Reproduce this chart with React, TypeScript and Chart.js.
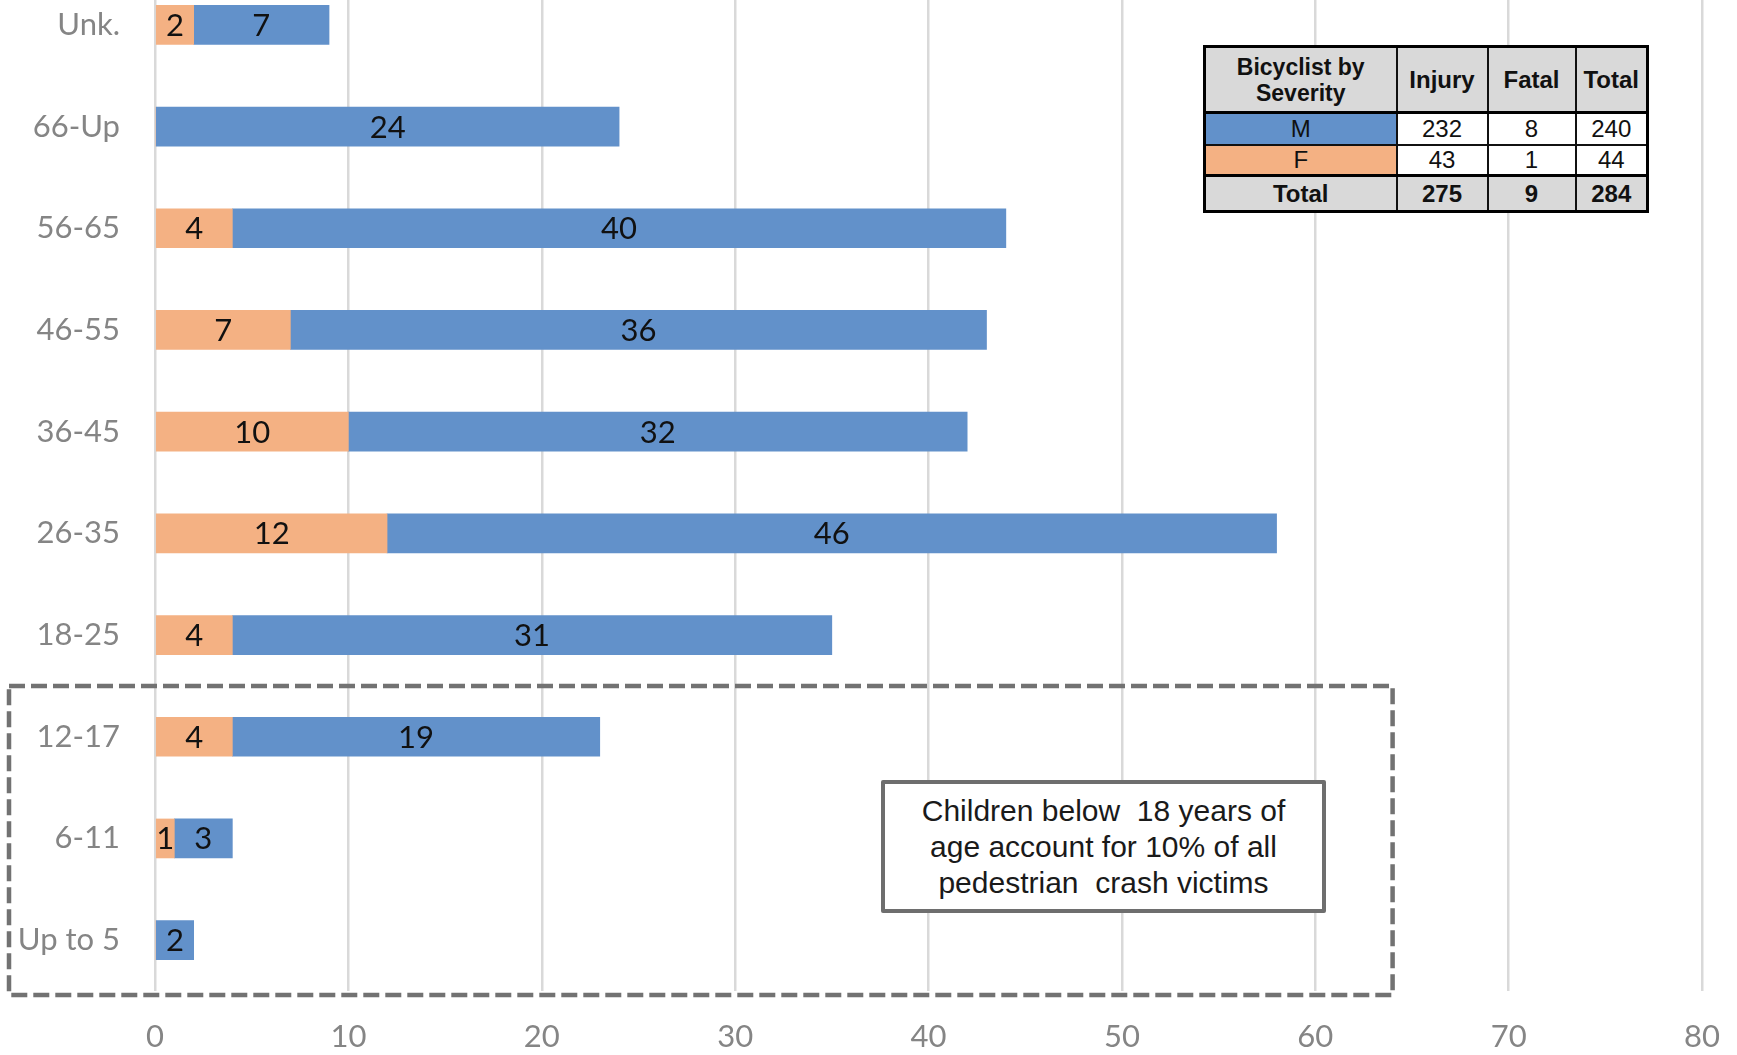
import React, { useEffect, useRef } from "react";
import { Chart, registerables } from "chart.js";

Chart.register(...registerables);

// ---------- data ----------
const categories = ["Unk.", "66-Up", "56-65", "46-55", "36-45", "26-35", "18-25", "12-17", "6-11", "Up to 5"];
const femaleValues = [2, 0, 4, 7, 10, 12, 4, 4, 1, 0];
const maleValues = [7, 24, 40, 36, 32, 46, 31, 19, 3, 2];
const xMin = 0;
const xMax = 80;
const xStep = 10;

const tableHeader = ["Bicyclist by Severity", "Injury", "Fatal", "Total"];
const tableRowLabels = ["M", "F", "Total"];
const tableInjury = [232, 43, 275];
const tableFatal = [8, 1, 9];
const tableTotal = [240, 44, 284];

const calloutLines = ["Children below  18 years of", "age account for 10% of all", "pedestrian  crash victims"];

// ---------- styles ----------
const MALE = "#6291CA";
const FEMALE = "#F4B183";
const AXIS_TEXT = "#858585";
const GRID = "#D9D9D9";
const FONT = "Lato, 'Open Sans', sans-serif";

const labelsPlugin = {
  id: "segLabels",
  afterDatasetsDraw(chart: any) {
    const ctx = chart.ctx;
    ctx.save();
    ctx.font = `31px ${FONT}`;
    ctx.fillStyle = "#111";
    ctx.textAlign = "center";
    ctx.textBaseline = "middle";
    chart.data.datasets.forEach((ds: any, i: number) => {
      const meta = chart.getDatasetMeta(i);
      meta.data.forEach((el: any, j: number) => {
        const v = ds.data[j];
        if (!v) return;
        const p = el.getProps(["x", "base", "y"], true);
        ctx.fillText(String(v), (p.x + p.base) / 2, p.y + 1);
      });
    });
    ctx.restore();
  },
};

const boxPlugin = {
  id: "childBox",
  afterDraw(chart: any) {
    const ctx = chart.ctx;
    const xs = chart.scales.x;
    const ys = chart.scales.y;
    const top = (ys.getPixelForValue(6) + ys.getPixelForValue(7)) / 2;
    const bottom = chart.chartArea.bottom + 4;
    const left = 9;
    const right = xs.getPixelForValue(64);
    ctx.save();
    ctx.strokeStyle = "#727272";
    ctx.lineWidth = 4.5;
    ctx.setLineDash([16, 6]);
    ctx.strokeRect(left, top, right - left, bottom - top);
    ctx.restore();
  },
};

function BarChart() {
  const ref = useRef<HTMLCanvasElement | null>(null);
  useEffect(() => {
    if (!ref.current) return;
    const chart = new Chart(ref.current, {
      type: "bar",
      data: {
        labels: categories,
        datasets: [
          { label: "F", data: femaleValues, backgroundColor: FEMALE, barThickness: 39 },
          { label: "M", data: maleValues, backgroundColor: MALE, barThickness: 39 },
        ],
      },
      options: {
        indexAxis: "y",
        responsive: false,
        animation: false,
        layout: { padding: { top: 60, right: 35, left: 0, bottom: 0 } },
        plugins: { legend: { display: false }, tooltip: { enabled: false } },
        scales: {
          x: {
            stacked: true,
            min: xMin,
            max: xMax,
            ticks: { stepSize: xStep, color: AXIS_TEXT, font: { family: FONT, size: 31 }, padding: 27 },
            grid: { color: GRID, lineWidth: 2.5, drawTicks: false },
            border: { display: false },
            afterFit: (s: any) => {
              s.height = 64;
              s.paddingLeft = 0;
              s.paddingRight = 0;
            },
          },
          y: {
            stacked: true,
            ticks: { color: AXIS_TEXT, font: { family: FONT, size: 31 }, padding: 35 },
            grid: { display: false, drawTicks: false },
            border: { display: false },
            afterFit: (s: any) => {
              s.width = 155;
            },
          },
        },
      } as any,
      plugins: [labelsPlugin, boxPlugin],
    });
    return () => chart.destroy();
  }, []);
  return <canvas ref={ref} width={1737} height={1141} style={{ display: "block" }} />;
}

const cellBase: React.CSSProperties = {
  border: "2px solid #111",
  padding: 0,
  textAlign: "center",
  verticalAlign: "middle",
  fontSize: 24,
  lineHeight: "26px",
  overflow: "hidden",
  whiteSpace: "nowrap",
};

function SeverityTable() {
  const colWidths = [192, 91, 88, 72];
  const rowBg = [MALE, FEMALE, "#D9D9D9"];
  const rowHeights = [32, 31, 36];
  return (
    <table
      style={{
        position: "absolute",
        left: 1203,
        top: 45,
        width: 443,
        height: 165,
        borderCollapse: "collapse",
        tableLayout: "fixed",
        fontFamily: "'Liberation Sans', Arial, sans-serif",
        color: "#111",
        border: "3px solid #000",
        background: "#fff",
      }}
    >
      <colgroup>
        {colWidths.map((w, i) => (
          <col key={i} style={{ width: w }} />
        ))}
      </colgroup>
      <tbody>
        <tr style={{ height: 66 }}>
          {tableHeader.map((h, i) => (
            <td
              key={i}
              style={{
                ...cellBase,
                background: "#D9D9D9",
                fontWeight: "bold",
                fontSize: i === 0 ? 23 : 24,
                whiteSpace: i === 0 ? "normal" : "nowrap",
                borderBottom: "3px solid #000",
              }}
            >
              {i === 0 ? (
                <>
                  Bicyclist by
                  <br />
                  Severity
                </>
              ) : (
                h
              )}
            </td>
          ))}
        </tr>
        {tableRowLabels.map((r, i) => {
          const isTotal = i === 2;
          const valBg = isTotal ? "#D9D9D9" : "#fff";
          const fw = isTotal ? "bold" : "normal";
          return (
            <tr key={r} style={{ height: rowHeights[i] }}>
              <td style={{ ...cellBase, background: rowBg[i], fontWeight: fw, borderTop: isTotal ? "3px solid #000" : cellBase.border }}>{r}</td>
              <td style={{ ...cellBase, background: valBg, fontWeight: fw, borderTop: isTotal ? "3px solid #000" : cellBase.border }}>{tableInjury[i]}</td>
              <td style={{ ...cellBase, background: valBg, fontWeight: fw, borderTop: isTotal ? "3px solid #000" : cellBase.border }}>{tableFatal[i]}</td>
              <td style={{ ...cellBase, background: valBg, fontWeight: fw, borderTop: isTotal ? "3px solid #000" : cellBase.border }}>{tableTotal[i]}</td>
            </tr>
          );
        })}
      </tbody>
    </table>
  );
}

function Callout() {
  return (
    <div
      style={{
        position: "absolute",
        left: 881,
        top: 780,
        width: 445,
        height: 133,
        boxSizing: "border-box",
        border: "4px solid #6E6E6E",
        borderRadius: 2,
        background: "#fff",
        display: "flex",
        flexDirection: "column",
        justifyContent: "center",
        alignItems: "center",
        fontFamily: "'Liberation Sans', Arial, sans-serif",
        fontSize: 30,
        lineHeight: "36px",
        color: "#1a1a1a",
      }}
    >
      {calloutLines.map((l, i) => (
        <div key={i} style={{ whiteSpace: "pre" }}>
          {l}
        </div>
      ))}
    </div>
  );
}

export default function App() {
  return (
    <div
      style={{
        position: "fixed",
        left: 0,
        top: 0,
        width: 1737,
        height: 1055,
        overflow: "hidden",
        background: "#fff",
      }}
    >
      <div style={{ position: "absolute", left: 0, top: -86 }}>
        <BarChart />
      </div>
      <SeverityTable />
      <Callout />
    </div>
  );
}
